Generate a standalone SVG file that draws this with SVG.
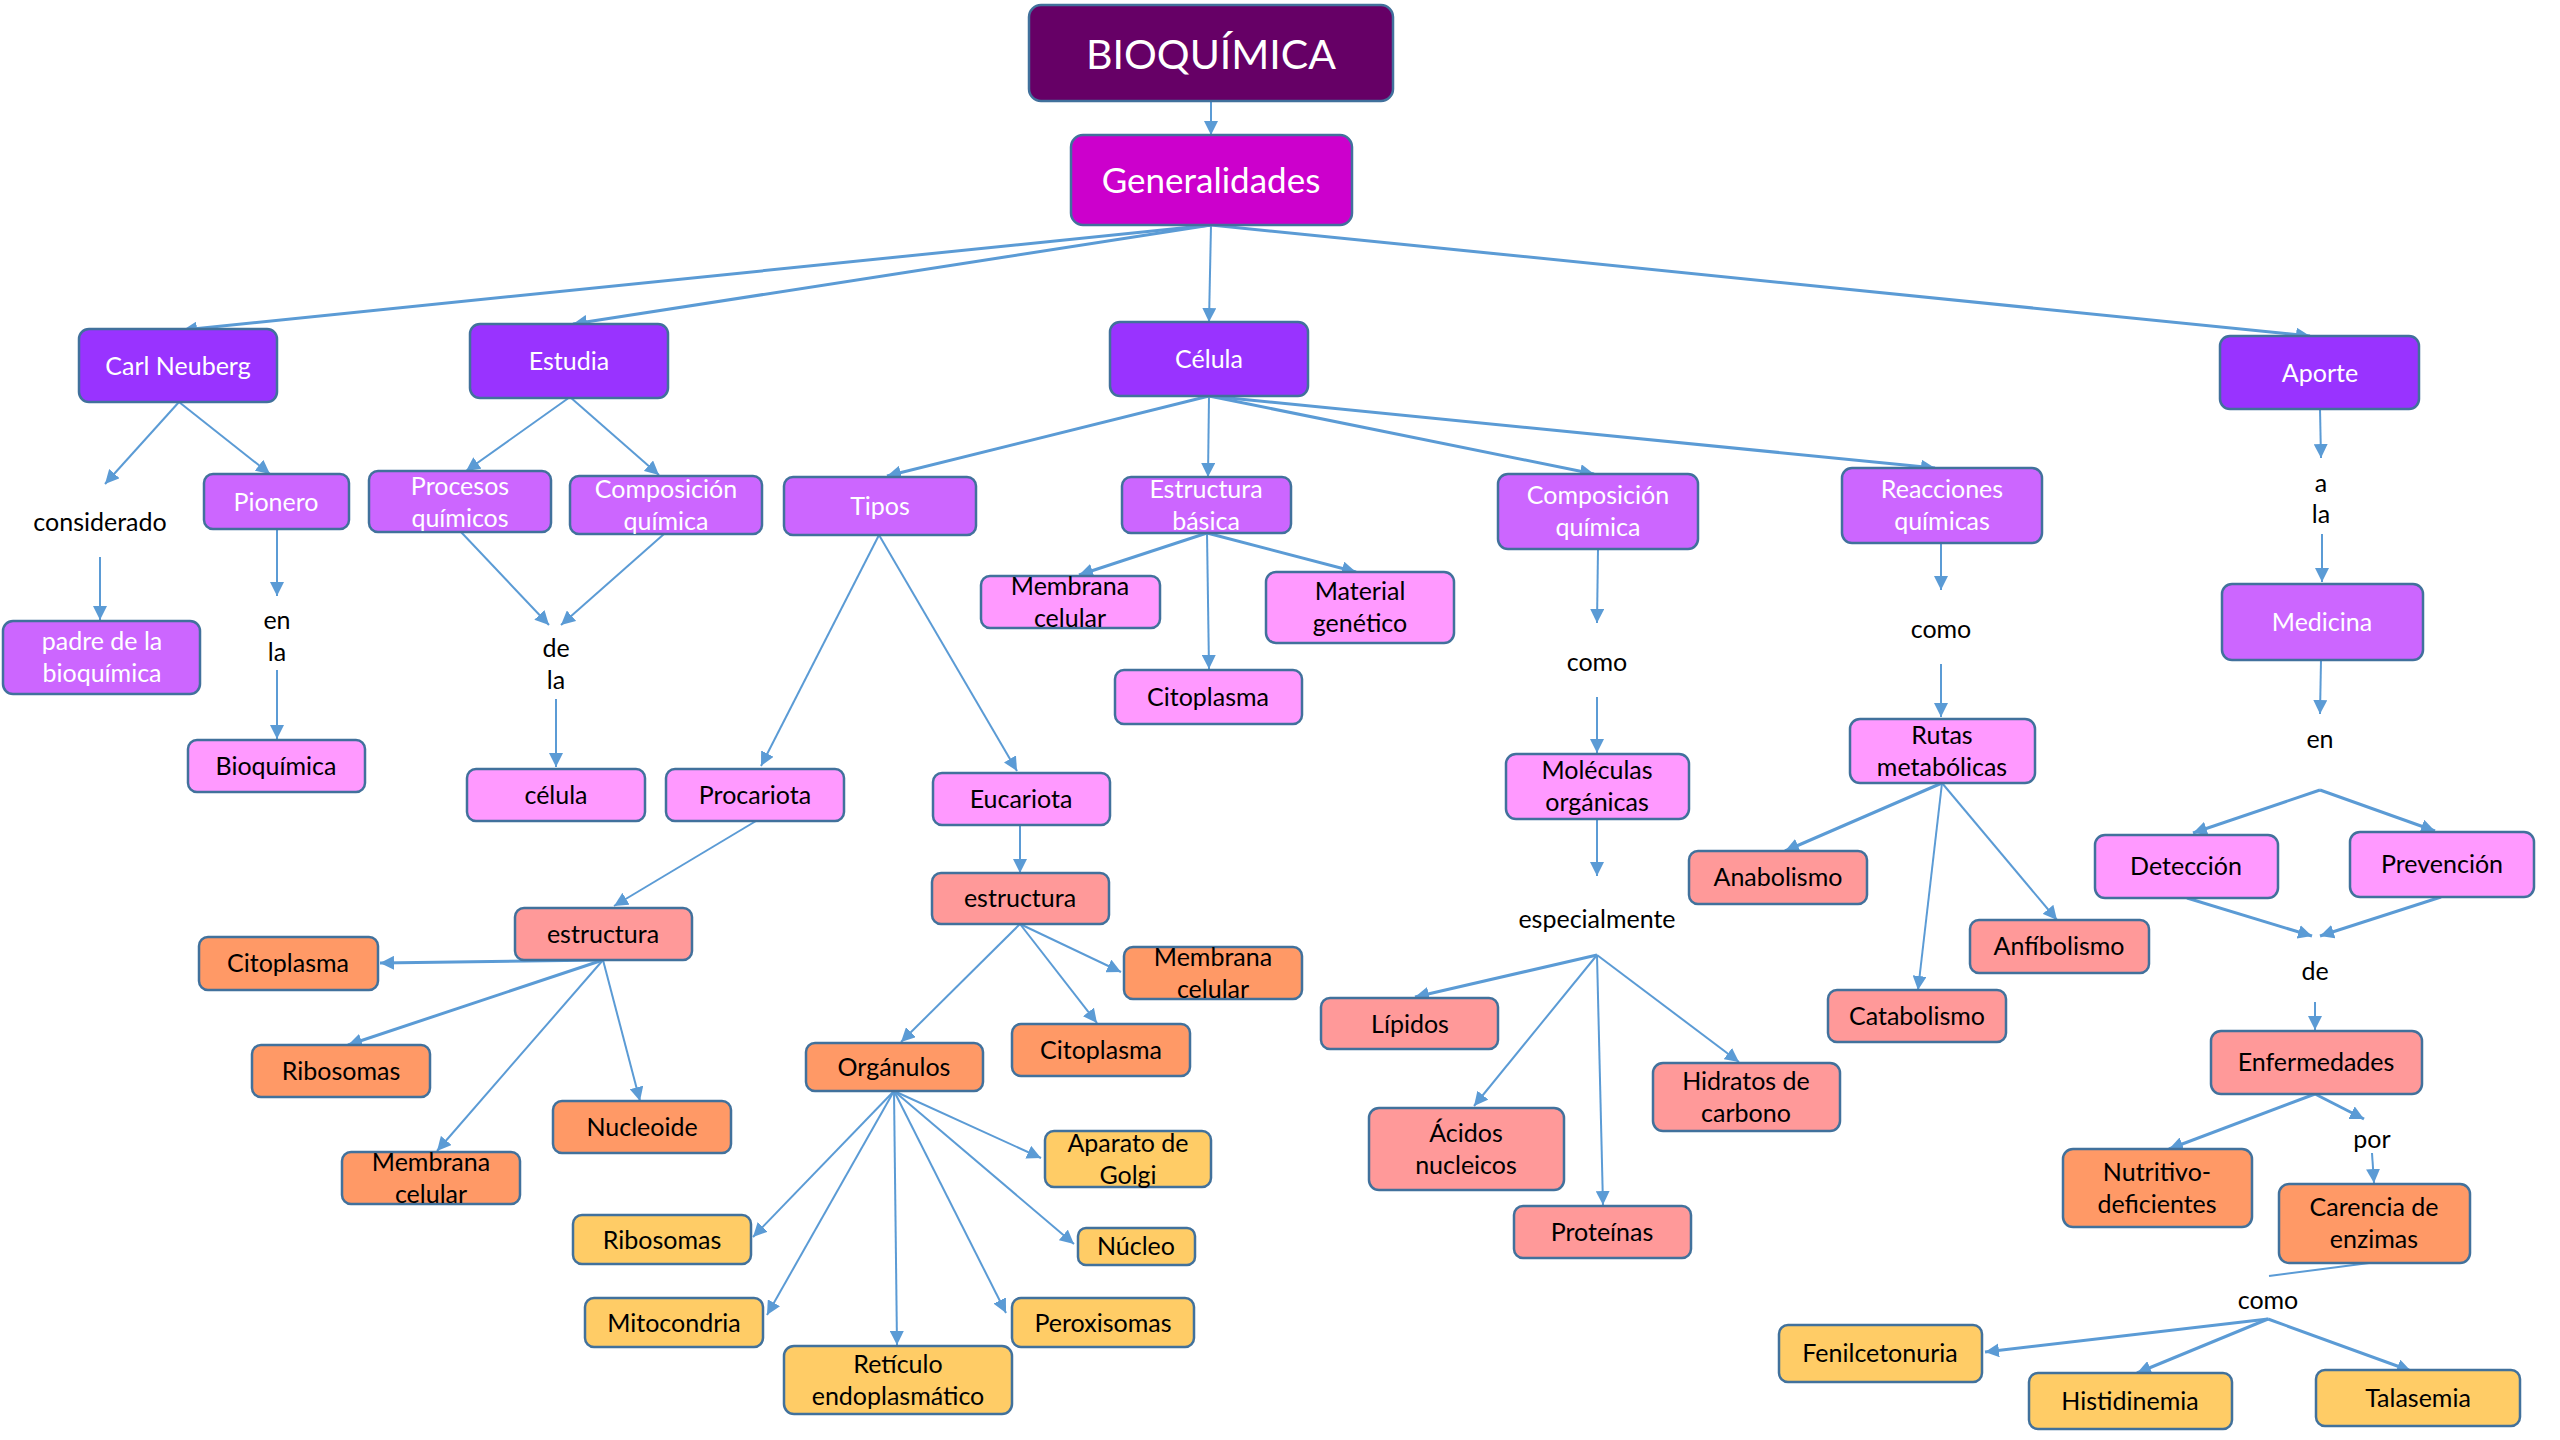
<svg xmlns="http://www.w3.org/2000/svg" width="2560" height="1440" viewBox="0 0 2560 1440">
<defs>
<style>
.n rect{stroke:#41719C;stroke-width:2.5}
.n text{font-family:Lato,"Liberation Sans",sans-serif;font-size:25px;text-anchor:middle}
.w text{fill:#FFFFFF}
.b text{fill:#000000}
.c1 rect{fill:#660066}
.c2 rect{fill:#CC00CC}
.c3 rect{fill:#9933FF}
.c4 rect{fill:#CC66FF}
.c5 rect{fill:#FF99FF}
.c6 rect{fill:#FF9999}
.c7 rect{fill:#FF9966}
.c8 rect{fill:#FFCC66}
.lbl{font-family:Lato,"Liberation Sans",sans-serif;font-size:25px;text-anchor:middle;fill:#000}
#links line{stroke:#5B9BD5;stroke-width:2;marker-end:url(#ah)}
#links line.t{stroke-width:3}
#links line.na{marker-end:none}
</style>
<marker id="ah" viewBox="0 0 14 14" refX="14" refY="7" markerWidth="14" markerHeight="14" markerUnits="userSpaceOnUse" orient="auto"><path d="M0,0 L14,7 L0,14 z" fill="#5B9BD5"/></marker>
</defs>
<rect width="2560" height="1440" fill="#FFFFFF"/>
<g id="links">
<line x1="1211" y1="101" x2="1211" y2="135"/>
<line class="t" x1="1211" y1="225" x2="183" y2="330"/>
<line class="t" x1="1211" y1="225" x2="573" y2="324"/>
<line x1="1211" y1="225" x2="1209" y2="322"/>
<line class="t" x1="1211" y1="225" x2="2310" y2="336"/>
<line x1="179" y1="402" x2="105" y2="484"/>
<line x1="179" y1="402" x2="270" y2="474"/>
<line x1="100" y1="557" x2="100" y2="620"/>
<line x1="277" y1="529" x2="277" y2="596"/>
<line x1="277" y1="670" x2="277" y2="739"/>
<line x1="570" y1="397" x2="466" y2="471"/>
<line x1="570" y1="397" x2="659" y2="475"/>
<line x1="461" y1="532" x2="549" y2="625"/>
<line x1="664" y1="534" x2="561" y2="625"/>
<line x1="556" y1="699" x2="556" y2="767"/>
<line class="t" x1="1209" y1="396" x2="887" y2="476"/>
<line x1="1209" y1="396" x2="1208" y2="477"/>
<line class="t" x1="1209" y1="396" x2="1594" y2="474"/>
<line class="t" x1="1209" y1="396" x2="1935" y2="468"/>
<line x1="879" y1="535" x2="761" y2="766"/>
<line x1="879" y1="535" x2="1017" y2="771"/>
<line class="t" x1="1207" y1="533" x2="1079" y2="575"/>
<line class="t" x1="1207" y1="533" x2="1356" y2="572"/>
<line x1="1207" y1="533" x2="1209" y2="669"/>
<line x1="1598" y1="549" x2="1597" y2="623"/>
<line x1="1597" y1="697" x2="1597" y2="753"/>
<line x1="1597" y1="819" x2="1597" y2="876"/>
<line class="t" x1="1597" y1="955" x2="1415" y2="997"/>
<line x1="1597" y1="955" x2="1474" y2="1106"/>
<line x1="1597" y1="955" x2="1603" y2="1205"/>
<line x1="1597" y1="955" x2="1739" y2="1062"/>
<line x1="1941" y1="543" x2="1941" y2="590"/>
<line x1="1941" y1="664" x2="1941" y2="717"/>
<line class="t" x1="1942" y1="783" x2="1785" y2="851"/>
<line x1="1942" y1="783" x2="1918" y2="990"/>
<line x1="1942" y1="783" x2="2057" y2="920"/>
<line x1="2320" y1="409" x2="2321" y2="458"/>
<line x1="2322" y1="534" x2="2322" y2="582"/>
<line x1="2321" y1="660" x2="2320" y2="714"/>
<line class="t" x1="2320" y1="790" x2="2193" y2="833"/>
<line class="t" x1="2320" y1="790" x2="2435" y2="831"/>
<line class="t" x1="2187" y1="898" x2="2312" y2="936"/>
<line class="t" x1="2441" y1="897" x2="2320" y2="936"/>
<line x1="2315" y1="1002" x2="2315" y2="1030"/>
<line class="t" x1="2315" y1="1094" x2="2169" y2="1149"/>
<line class="t" x1="2315" y1="1094" x2="2364" y2="1119"/>
<line x1="2372" y1="1153" x2="2374" y2="1183"/>
<line class="na" x1="2369" y1="1263" x2="2269" y2="1276"/>
<line class="t" x1="2268" y1="1319" x2="1985" y2="1352"/>
<line class="t" x1="2268" y1="1319" x2="2137" y2="1373"/>
<line class="t" x1="2268" y1="1319" x2="2411" y2="1371"/>
<line x1="756" y1="821" x2="614" y2="906"/>
<line class="t" x1="603" y1="960" x2="380" y2="963"/>
<line class="t" x1="603" y1="960" x2="348" y2="1045"/>
<line x1="603" y1="960" x2="437" y2="1151"/>
<line x1="603" y1="960" x2="640" y2="1101"/>
<line x1="1020" y1="825" x2="1020" y2="873"/>
<line x1="1020" y1="924" x2="901" y2="1042"/>
<line x1="1020" y1="924" x2="1097" y2="1023"/>
<line x1="1020" y1="924" x2="1121" y2="972"/>
<line x1="894" y1="1091" x2="753" y2="1237"/>
<line x1="894" y1="1091" x2="767" y2="1315"/>
<line x1="894" y1="1091" x2="897" y2="1345"/>
<line x1="894" y1="1091" x2="1006" y2="1313"/>
<line x1="894" y1="1091" x2="1074" y2="1244"/>
<line x1="894" y1="1091" x2="1041" y2="1158"/>
</g>
<g id="labels">
<text class="lbl" x="100" y="531">considerado</text>
<text class="lbl" x="277" y="629">en</text>
<text class="lbl" x="277" y="661">la</text>
<text class="lbl" x="556" y="657">de</text>
<text class="lbl" x="556" y="689">la</text>
<text class="lbl" x="1597" y="671">como</text>
<text class="lbl" x="1941" y="638">como</text>
<text class="lbl" x="1597" y="928">especialmente</text>
<text class="lbl" x="2321" y="492">a</text>
<text class="lbl" x="2321" y="523">la</text>
<text class="lbl" x="2320" y="748">en</text>
<text class="lbl" x="2315" y="980">de</text>
<text class="lbl" x="2372" y="1148">por</text>
<text class="lbl" x="2268" y="1309">como</text>
</g>
<g id="n-bioquimica" class="n w c1"><rect x="1029" y="5" width="364" height="96" rx="12"/><text x="1211" y="69" style="font-size:41px">BIOQUÍMICA</text></g>
<g id="n-generalidades" class="n w c2"><rect x="1071" y="135" width="281" height="90" rx="12"/><text x="1211" y="193" style="font-size:35px">Generalidades</text></g>
<g id="n-carl" class="n w c3"><rect x="79" y="329" width="198" height="73" rx="10"/><text x="178" y="375">Carl Neuberg</text></g>
<g id="n-estudia" class="n w c3"><rect x="470" y="324" width="198" height="74" rx="10"/><text x="569" y="370">Estudia</text></g>
<g id="n-celula" class="n w c3"><rect x="1110" y="322" width="198" height="74" rx="10"/><text x="1209" y="368">Célula</text></g>
<g id="n-aporte" class="n w c3"><rect x="2220" y="336" width="199" height="73" rx="10"/><text x="2320" y="382">Aporte</text></g>
<g id="n-pionero" class="n w c4"><rect x="204" y="474" width="145" height="55" rx="9"/><text x="276" y="511">Pionero</text></g>
<g id="n-padre" class="n w c4"><rect x="3" y="621" width="197" height="73" rx="10"/><text x="102" y="650">padre de la</text><text x="102" y="682">bioquímica</text></g>
<g id="n-bioquimica2" class="n b c5"><rect x="188" y="740" width="177" height="52" rx="9"/><text x="276" y="775">Bioquímica</text></g>
<g id="n-procesos" class="n w c4"><rect x="369" y="471" width="182" height="61" rx="9"/><text x="460" y="495">Procesos</text><text x="460" y="527">químicos</text></g>
<g id="n-composicion1" class="n w c4"><rect x="570" y="476" width="192" height="58" rx="9"/><text x="666" y="498">Composición</text><text x="666" y="530">química</text></g>
<g id="n-celula2" class="n b c5"><rect x="467" y="769" width="178" height="52" rx="9"/><text x="556" y="804">célula</text></g>
<g id="n-tipos" class="n w c4"><rect x="784" y="477" width="192" height="58" rx="9"/><text x="880" y="515">Tipos</text></g>
<g id="n-procariota" class="n b c5"><rect x="666" y="769" width="178" height="52" rx="9"/><text x="755" y="804">Procariota</text></g>
<g id="n-eucariota" class="n b c5"><rect x="933" y="773" width="177" height="52" rx="9"/><text x="1021" y="808">Eucariota</text></g>
<g id="n-estructura-basica" class="n w c4"><rect x="1122" y="477" width="169" height="56" rx="9"/><text x="1206" y="498">Estructura</text><text x="1206" y="530">básica</text></g>
<g id="n-membrana1" class="n b c5"><rect x="981" y="576" width="179" height="52" rx="9"/><text x="1070" y="595">Membrana</text><text x="1070" y="627">celular</text></g>
<g id="n-material" class="n b c5"><rect x="1266" y="572" width="188" height="71" rx="10"/><text x="1360" y="600">Material</text><text x="1360" y="632">genético</text></g>
<g id="n-citoplasma1" class="n b c5"><rect x="1115" y="670" width="187" height="54" rx="9"/><text x="1208" y="706">Citoplasma</text></g>
<g id="n-composicion2" class="n w c4"><rect x="1498" y="474" width="200" height="75" rx="10"/><text x="1598" y="504">Composición</text><text x="1598" y="536">química</text></g>
<g id="n-moleculas" class="n b c5"><rect x="1506" y="754" width="183" height="65" rx="10"/><text x="1597" y="779">Moléculas</text><text x="1597" y="811">orgánicas</text></g>
<g id="n-reacciones" class="n w c4"><rect x="1842" y="468" width="200" height="75" rx="10"/><text x="1942" y="498">Reacciones</text><text x="1942" y="530">químicas</text></g>
<g id="n-rutas" class="n b c5"><rect x="1850" y="719" width="185" height="64" rx="10"/><text x="1942" y="744">Rutas</text><text x="1942" y="776">metabólicas</text></g>
<g id="n-anabolismo" class="n b c6"><rect x="1689" y="851" width="178" height="53" rx="9"/><text x="1778" y="886">Anabolismo</text></g>
<g id="n-anfibolismo" class="n b c6"><rect x="1970" y="920" width="179" height="53" rx="9"/><text x="2059" y="955">Anfíbolismo</text></g>
<g id="n-catabolismo" class="n b c6"><rect x="1828" y="990" width="178" height="52" rx="9"/><text x="1917" y="1025">Catabolismo</text></g>
<g id="n-medicina" class="n w c4"><rect x="2222" y="584" width="201" height="76" rx="10"/><text x="2322" y="631">Medicina</text></g>
<g id="n-deteccion" class="n b c5"><rect x="2095" y="835" width="183" height="63" rx="10"/><text x="2186" y="875">Detección</text></g>
<g id="n-prevencion" class="n b c5"><rect x="2350" y="832" width="184" height="65" rx="10"/><text x="2442" y="873">Prevención</text></g>
<g id="n-enfermedades" class="n b c6"><rect x="2211" y="1031" width="211" height="63" rx="10"/><text x="2316" y="1071">Enfermedades</text></g>
<g id="n-nutritivo" class="n b c7"><rect x="2063" y="1149" width="189" height="78" rx="10"/><text x="2157" y="1181">Nutritivo-</text><text x="2157" y="1213">deficientes</text></g>
<g id="n-carencia" class="n b c7"><rect x="2279" y="1184" width="191" height="79" rx="10"/><text x="2374" y="1216">Carencia de</text><text x="2374" y="1248">enzimas</text></g>
<g id="n-fenilcetonuria" class="n b c8"><rect x="1779" y="1325" width="203" height="57" rx="9"/><text x="1880" y="1362">Fenilcetonuria</text></g>
<g id="n-histidinemia" class="n b c8"><rect x="2029" y="1373" width="203" height="56" rx="9"/><text x="2130" y="1410">Histidinemia</text></g>
<g id="n-talasemia" class="n b c8"><rect x="2316" y="1370" width="204" height="56" rx="9"/><text x="2418" y="1407">Talasemia</text></g>
<g id="n-estructura-p" class="n b c6"><rect x="515" y="908" width="177" height="52" rx="9"/><text x="603" y="943">estructura</text></g>
<g id="n-citoplasma-p" class="n b c7"><rect x="199" y="937" width="179" height="53" rx="9"/><text x="288" y="972">Citoplasma</text></g>
<g id="n-ribosomas-p" class="n b c7"><rect x="252" y="1045" width="178" height="52" rx="9"/><text x="341" y="1080">Ribosomas</text></g>
<g id="n-membrana-p" class="n b c7"><rect x="342" y="1152" width="178" height="52" rx="9"/><text x="431" y="1171">Membrana</text><text x="431" y="1203">celular</text></g>
<g id="n-nucleoide" class="n b c7"><rect x="553" y="1101" width="178" height="52" rx="9"/><text x="642" y="1136">Nucleoide</text></g>
<g id="n-estructura-e" class="n b c6"><rect x="932" y="873" width="177" height="51" rx="9"/><text x="1020" y="907">estructura</text></g>
<g id="n-membrana-e" class="n b c7"><rect x="1124" y="947" width="178" height="52" rx="9"/><text x="1213" y="966">Membrana</text><text x="1213" y="998">celular</text></g>
<g id="n-citoplasma-e" class="n b c7"><rect x="1012" y="1024" width="178" height="52" rx="9"/><text x="1101" y="1059">Citoplasma</text></g>
<g id="n-organulos" class="n b c7"><rect x="806" y="1043" width="177" height="48" rx="9"/><text x="894" y="1076">Orgánulos</text></g>
<g id="n-golgi" class="n b c8"><rect x="1045" y="1131" width="166" height="56" rx="9"/><text x="1128" y="1152">Aparato de</text><text x="1128" y="1184">Golgi</text></g>
<g id="n-ribosomas-e" class="n b c8"><rect x="573" y="1215" width="178" height="49" rx="9"/><text x="662" y="1249">Ribosomas</text></g>
<g id="n-nucleo" class="n b c8"><rect x="1078" y="1228" width="117" height="37" rx="8"/><text x="1136" y="1255">Núcleo</text></g>
<g id="n-mitocondria" class="n b c8"><rect x="585" y="1298" width="178" height="49" rx="9"/><text x="674" y="1332">Mitocondria</text></g>
<g id="n-peroxisomas" class="n b c8"><rect x="1012" y="1298" width="182" height="49" rx="9"/><text x="1103" y="1332">Peroxisomas</text></g>
<g id="n-reticulo" class="n b c8"><rect x="784" y="1346" width="228" height="68" rx="10"/><text x="898" y="1373">Retículo</text><text x="898" y="1405">endoplasmático</text></g>
<g id="n-lipidos" class="n b c6"><rect x="1321" y="998" width="177" height="51" rx="9"/><text x="1410" y="1033">Lípidos</text></g>
<g id="n-acidos" class="n b c6"><rect x="1369" y="1108" width="195" height="82" rx="10"/><text x="1466" y="1142">Ácidos</text><text x="1466" y="1174">nucleicos</text></g>
<g id="n-proteinas" class="n b c6"><rect x="1514" y="1206" width="177" height="52" rx="9"/><text x="1602" y="1241">Proteínas</text></g>
<g id="n-hidratos" class="n b c6"><rect x="1653" y="1063" width="187" height="68" rx="10"/><text x="1746" y="1090">Hidratos de</text><text x="1746" y="1122">carbono</text></g>
</svg>
